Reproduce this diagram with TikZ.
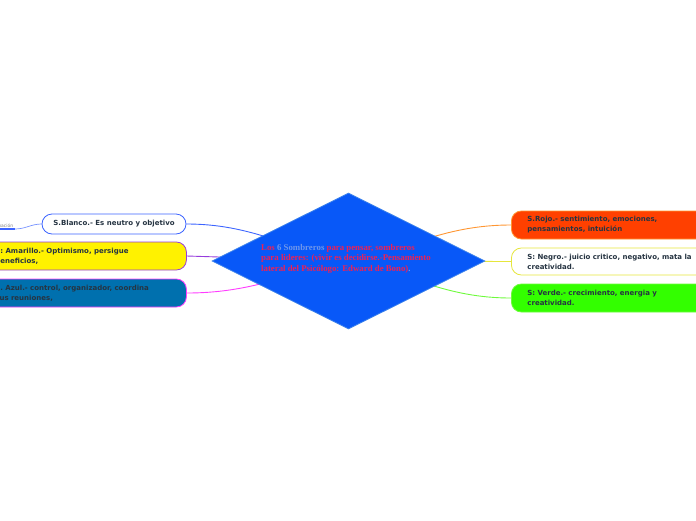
\documentclass[tikz,border=0pt]{standalone}
\usepackage{fontspec}
\setsansfont{DejaVu Sans}
\newfontfamily\titlefont{Liberation Serif Bold}
\usepackage{xcolor}
\usetikzlibrary{shapes.geometric,backgrounds}

\definecolor{hubblue}{RGB}{8,88,248}
\definecolor{hubedge}{RGB}{60,130,235}
\definecolor{txtdark}{RGB}{38,52,66}
\definecolor{tred}{RGB}{240,32,84}
\definecolor{tlight}{RGB}{110,150,235}
\definecolor{rojofill}{RGB}{255,64,0}
\definecolor{rojoedge}{RGB}{255,150,50}
\definecolor{verdefill}{RGB}{51,255,0}
\definecolor{verdeedge}{RGB}{110,250,60}
\definecolor{azulfill}{RGB}{0,112,174}
\definecolor{amaedge}{RGB}{150,60,220}
\definecolor{blancoedge}{RGB}{60,100,255}
\definecolor{negroedge}{RGB}{230,230,60}
\definecolor{azuledge}{RGB}{255,60,255}

\begin{document}
\begin{tikzpicture}[
    x=1pt, y=-1pt,
    font=\sffamily\bfseries\fontsize{7}{10}\selectfont,
    hat/.style={draw, rounded corners=10pt, line width=0.8pt, text=txtdark, inner ysep=0pt},
    hatleft/.style={hat, align=left, anchor=west, minimum height=28pt},
    link/.style={line width=0.9pt}
]
\useasboundingbox (0,0) rectangle (696,520);

% central topic
\node[diamond, draw=hubedge, fill=hubblue, line width=0.8pt, minimum width=273pt, minimum height=136pt, inner sep=0pt] (hub) at (348.5,261) {};
\node[anchor=north west, inner sep=0pt, align=left, font=\titlefont\fontsize{8.8}{10.5}\selectfont, text=tred] (title) at (261,244)
  {Los \textcolor{tlight}{6 Sombreros} para pensar, sombreros\\para lideres: (vivir es decidirse.-Pensamiento\\lateral del Psic\'ologo: Edward de Bono)\textcolor{tlight}{.}};

% left side
\node[hat, draw=blancoedge, fill=white, minimum width=144pt, minimum height=20pt] (blanco) at (114,224) {S.Blanco.- Es neutro y objetivo};
\node[hatleft, draw=amaedge, fill=yellow, minimum width=204pt, text width=178pt, inner xsep=13pt] (amarillo) at (-18,256)
  {S: Amarillo.- Optimismo, persigue\\beneficios,};
\node[hatleft, draw=azuledge, fill=azulfill, minimum width=204pt, text width=178pt, inner xsep=13pt] (azul) at (-18,293)
  {S. Azul.- control, organizador, coordina\\sus reuniones,};
\node[anchor=south east, inner sep=1.5pt, font=\sffamily\fontsize{4.5}{5}\selectfont, text=gray] (info) at (15,229) {Informaci\'on};

% right side
\node[hatleft, draw=rojoedge, fill=rojofill, minimum width=210pt, text width=180pt, inner xsep=16pt] (rojo) at (511,225)
  {S.Rojo.- sentimiento, emociones,\\pensamientos, intuici\'on};
\node[hatleft, draw=negroedge, fill=white, minimum width=210pt, minimum height=27pt, text width=180pt, inner xsep=16pt] (negro) at (511,261.5)
  {S: Negro.- juicio critico, negativo, mata la\\creatividad.};
\node[hatleft, draw=verdeedge, fill=verdefill, minimum width=210pt, text width=180pt, inner xsep=16pt] (verde) at (511,298)
  {S: Verde.- crecimiento, energia y\\creatividad.};

\begin{scope}[on background layer]
\draw[link, blancoedge] (blanco.east) to[out=0, in=168] (hub.center);
\draw[link, amaedge] (amarillo.east) -- (hub.center);
\draw[link, azuledge] (azul.east) to[out=0, in=192] (hub.center);
\draw[link, rojoedge] (hub.center) to[out=12, in=180] (rojo.west);
\draw[link, negroedge] (hub.center) -- (negro.west);
\draw[link, verdeedge] (hub.center) to[out=-12, in=180] (verde.west);
\draw[line width=1.6pt, blancoedge] (info.south west) -- (info.south east);
\draw[line width=0.7pt, blancoedge!70] (info.south east) to[out=0, in=180] (blanco.west);
\end{scope}
\end{tikzpicture}
\end{document}
